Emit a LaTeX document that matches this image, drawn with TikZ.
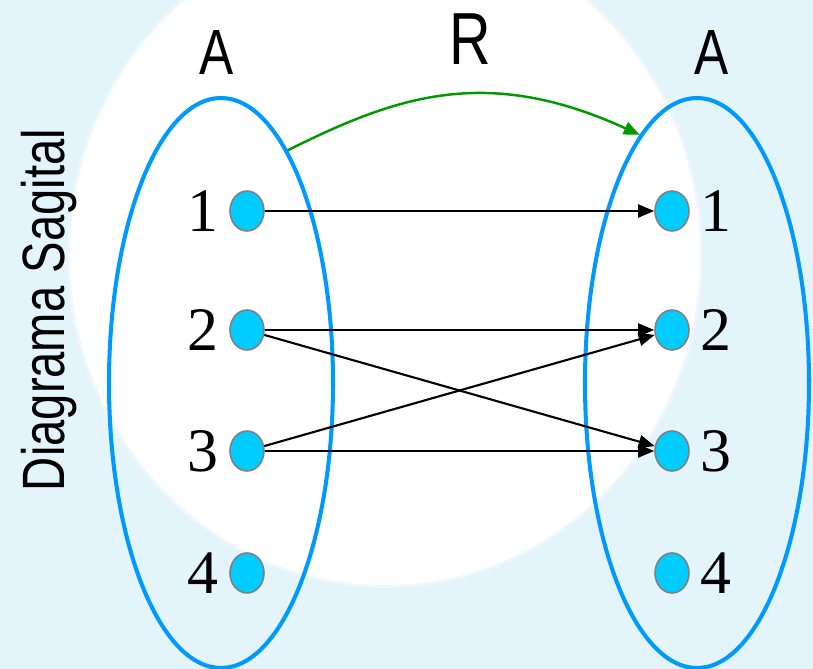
\documentclass[tikz,border=0pt]{standalone}
\usepackage{graphicx}
\usepackage{fontspec}
\setmainfont{Liberation Serif}
\newfontfamily\sansfont{Liberation Sans}
\usetikzlibrary{arrows.meta, positioning, shapes.geometric}
\definecolor{bgblue}{RGB}{227,244,250}
\definecolor{setblue}{RGB}{0,153,255}
\definecolor{dotcyan}{RGB}{0,204,255}
\definecolor{relgreen}{RGB}{0,153,0}

\begin{document}
\begin{tikzpicture}[
        setbox/.style={ellipse, draw=setblue, line width=1.15pt, minimum width=22.4mm, minimum height=57mm, inner sep=0pt},
        elem/.style={ellipse, draw=gray, fill=dotcyan, line width=0.45pt, minimum width=3.4mm, minimum height=4mm, inner sep=0pt},
        numlabel/.style={inner sep=0pt, font=\fontsize{17.6}{20}\selectfont},
        maparrow/.style={black, line width=0.6pt, -{Triangle[length=1.6mm, width=1.3mm]}},
        node distance=1mm
    ]
        % Background
        \useasboundingbox (0,0) rectangle (8.13,6.69);
        \begin{scope}
            \clip (0,0) rectangle (8.13,6.69);
            \fill[bgblue] (0,0) rectangle (8.13,6.69);
            \fill[white, opacity=0.4] (3.85,4.14) ellipse (3.18 and 3.33);
            \fill[white] (3.85,4.14) ellipse (3.15 and 3.30);
        \end{scope}

        % Sets
        \node[setbox] (setL) at (2.21,2.86) {};
        \node[setbox] (setR) at (6.97,2.86) {};
        \node[anchor=base, inner sep=0pt, font=\sansfont\fontsize{18.2}{20}\selectfont] (nameL) at (2.17,5.94) {\scalebox{0.8}[1]{A}};
        \node[anchor=base, inner sep=0pt, font=\sansfont\fontsize{18.2}{20}\selectfont] (nameR) at (7.12,5.94) {\scalebox{0.8}[1]{A}};
        \node[anchor=base, inner sep=0pt, font=\sansfont\fontsize{21}{24}\selectfont] (rel) at (4.70,6.04) {\scalebox{0.78}[1]{R}};
        \node[rotate=90, anchor=base, inner sep=0pt, font=\sansfont\fontsize{17}{20}\selectfont] (title) at (0.65,3.59) {\scalebox{0.79}[1]{Diagrama Sagital}};

        % Elements
        \foreach \i/\y in {1/4.58, 2/3.39, 3/2.18, 4/0.96} {
            \node[elem] (l\i) at (2.47,\y) {};
            \node[numlabel, left=of l\i] (ln\i) {\i};
            \node[elem] (r\i) at (6.72,\y) {};
            \node[numlabel, right=of r\i] (rn\i) {\i};
        }

        % Pairs
        \foreach \a/\b in {1/1, 2/2, 2/3, 3/2, 3/3}
            \draw[maparrow] (l\a) -- (r\b);

        % Relation
        \draw[relgreen, line width=0.7pt, -{Triangle[length=1.6mm, width=1.3mm]}] (setL.74) .. controls (3.95,5.72) and (4.85,6.05) .. (setR.103);
    \end{tikzpicture}
\end{document}
